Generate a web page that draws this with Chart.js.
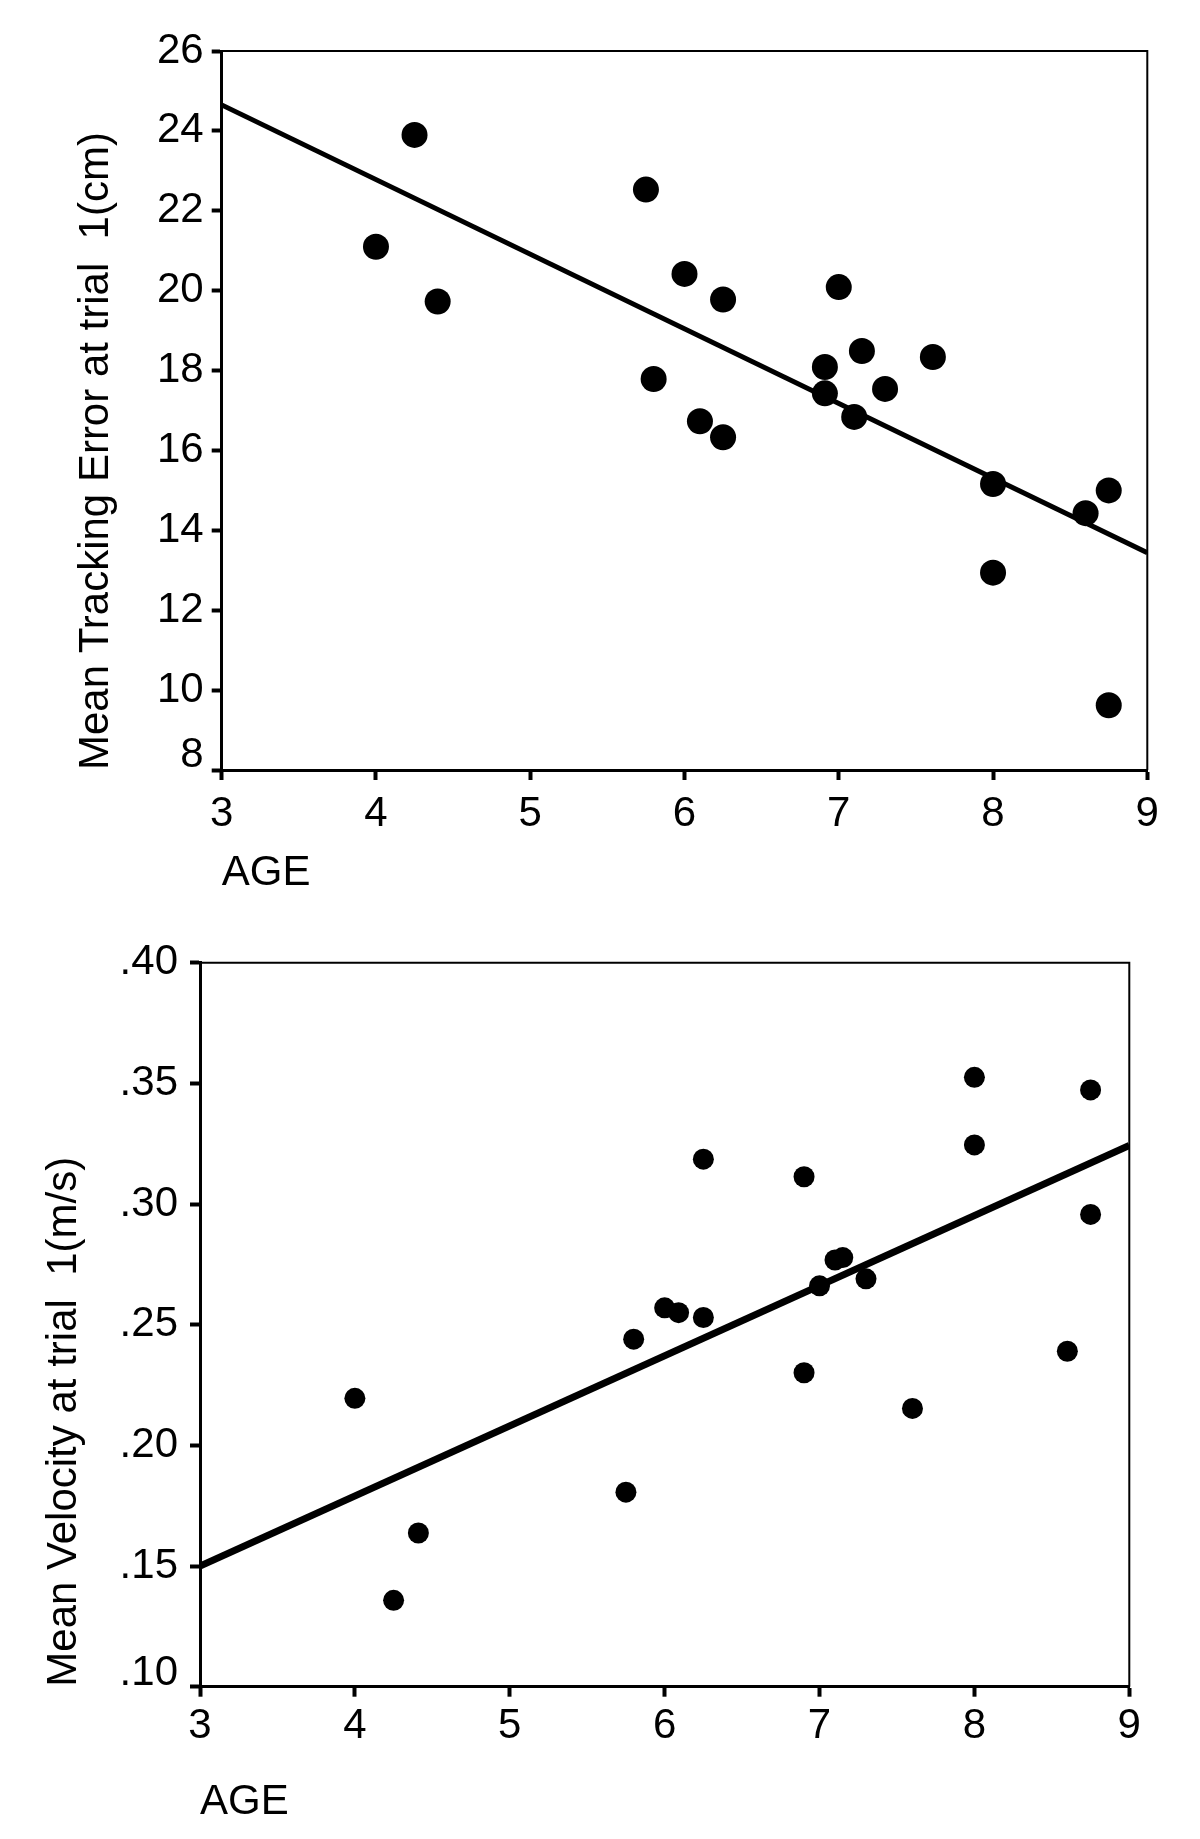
<!DOCTYPE html>
<html><head><meta charset="utf-8">
<script src="https://cdn.jsdelivr.net/npm/chart.js@4/dist/chart.umd.min.js"></script>
<style>
html,body{margin:0;padding:0;background:#fff;}
body{width:1200px;height:1839px;position:relative;overflow:hidden;}
canvas{position:absolute;left:0;}
#c1{top:0;} #c2{top:910px;}
</style></head><body>
<canvas id="c1" width="1200" height="910"></canvas>
<canvas id="c2" width="1200" height="929"></canvas>
<script>
// ---- data ----
const ages1 = [4.0, 4.25, 4.4, 5.75, 5.8, 6.0, 6.1, 6.25, 6.25, 6.91, 6.91, 7.0, 7.1, 7.15, 7.3, 7.61, 8.0, 8.0, 8.6, 8.75, 8.75];
const trackingError = [21.1, 23.9, 19.73, 22.53, 17.79, 20.42, 16.73, 19.78, 16.33, 18.09, 17.43, 20.09, 16.84, 18.49, 17.54, 18.34, 15.16, 12.94, 14.43, 15.0, 9.62];
const fitAge = [3, 9];
const fitError = [24.65, 13.44];

const ages2 = [4.0, 4.25, 4.41, 5.75, 5.8, 6.0, 6.09, 6.25, 6.25, 6.9, 6.9, 7.0, 7.1, 7.15, 7.3, 7.6, 8.0, 8.0, 8.6, 8.75, 8.75];
const velocity = [0.2195, 0.1358, 0.1637, 0.1806, 0.244, 0.257, 0.255, 0.3186, 0.253, 0.3113, 0.2301, 0.2661, 0.2768, 0.2778, 0.269, 0.2153, 0.3525, 0.3245, 0.239, 0.3473, 0.2957];
const fitVelocity = [0.150, 0.3243];

const xTickLabels = ['3', '4', '5', '6', '7', '8', '9'];
const yTickLabels1 = ['8', '10', '12', '14', '16', '18', '20', '22', '24', '26'];
const yTickLabels2 = ['.10', '.15', '.20', '.25', '.30', '.35', '.40'];

const yTitle1 = 'Mean Tracking Error at trial  1(cm)';
const yTitle2 = 'Mean Velocity at trial  1(m/s)';
const xTitle = 'AGE';

// ---- rendering ----
const FONT = "'Liberation Sans', Arial, Helvetica, sans-serif";
Chart.defaults.font.family = FONT;
Chart.defaults.color = '#000';

const framePlugin = {
  id: 'frame',
  beforeDatasetsDraw(chart, args, opts) {
    const {ctx, chartArea: a} = chart;
    ctx.save();
    ctx.strokeStyle = '#000';
    ctx.lineWidth = opts.width || 2;
    ctx.beginPath();
    ctx.moveTo(a.left, a.top);
    ctx.lineTo(a.right, a.top);
    ctx.lineTo(a.right, a.bottom);
    ctx.stroke();
    ctx.restore();
  }
};

function makeChart(id, g, xs, ys, fitX, fitY, yMin, yMax, yStep, yLabels, yTitle) {
  const canvas = document.getElementById(id);
  return new Chart(canvas, {
    type: 'scatter',
    data: {
      datasets: [
        {
          type: 'scatter',
          data: xs.map((x, i) => ({x: x, y: ys[i]})),
          backgroundColor: '#000',
          borderWidth: 0,
          pointRadius: g.pointRadius,
          order: 0
        },
        {
          type: 'line',
          data: fitX.map((x, i) => ({x: x, y: fitY[i]})),
          borderColor: '#000',
          borderWidth: g.lineWidth,
          pointRadius: 0,
          fill: false,
          order: 1
        }
      ]
    },
    options: {
      responsive: false,
      animation: false,
      devicePixelRatio: 1,
      layout: {padding: {top: g.top, right: 1200 - g.right, left: 0, bottom: 0}},
      plugins: {legend: {display: false}, tooltip: {enabled: false}, frame: {width: 2}},
      scales: {
        x: {
          type: 'linear', position: 'bottom', min: 3, max: 9,
          afterFit: s => { s.height = g.height - g.bottom; },
          ticks: {stepSize: 1, padding: g.xTickPad, font: {size: 42},
                  callback: (v, i) => xTickLabels[i]},
          grid: {display: true, drawOnChartArea: false, drawTicks: true, tickLength: 10, tickWidth: 4, tickColor: '#000'},
          border: {display: true, color: '#000', width: 3},
          title: {display: true, text: xTitle, align: 'start', font: {size: 42}, padding: {top: 0, bottom: 11.5}}
        },
        y: {
          type: 'linear', position: 'left', min: yMin, max: yMax,
          afterFit: s => { s.width = g.left; },
          ticks: {stepSize: yStep, padding: g.yTickPad, font: {size: 42, lineHeight: g.lowShift / 42},
                  callback: (v, i) => i === 0 ? [yLabels[i], ''] : yLabels[i]},
          grid: {display: true, drawOnChartArea: false, drawTicks: true, tickLength: 10, tickWidth: 4, tickColor: '#000'},
          border: {display: true, color: '#000', width: 3},
          title: {display: true, text: yTitle, align: 'start', font: {size: 42}, padding: {top: g.yTitlePad, bottom: 0}}
        }
      }
    },
    plugins: [framePlugin]
  });
}

makeChart('c1',
  {height: 910, left: 221.7, top: 51, right: 1147.3, bottom: 770, pointRadius: 13, lineWidth: 5,
   xTickPad: 9, yTickPad: 8, yTitlePad: 71, lowShift: 30},
  ages1, trackingError, fitAge, fitError, 8, 26, 2, yTickLabels1, yTitle1);

makeChart('c2',
  {height: 929, left: 200, top: 52.7, right: 1129.3, bottom: 776.7, pointRadius: 10.5, lineWidth: 7,
   xTickPad: 5, yTickPad: 12, yTitlePad: 39, lowShift: 26},
  ages2, velocity, fitAge, fitVelocity, 0.1, 0.4, 0.05, yTickLabels2, yTitle2);
</script>
</body></html>
